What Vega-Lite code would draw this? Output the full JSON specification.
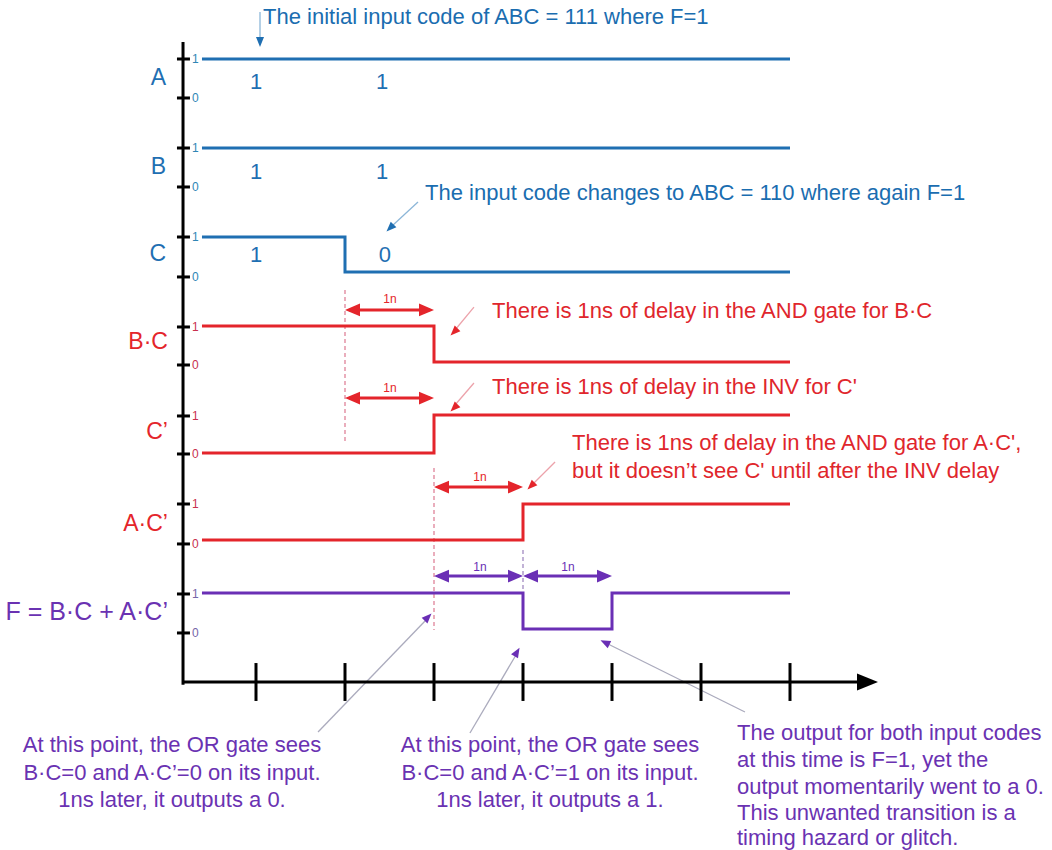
{
  "$schema": "https://vega.github.io/schema/vega-lite/v6.json",
  "width": 1052,
  "height": 850,
  "autosize": {"type": "fit", "contains": "padding"},
  "padding": 0,
  "background": "white",
  "config": {"view": {"stroke": null}, "text": {"font": "Liberation Sans"}},
  "datasets": {
    "axes": [
      {"t": 0.18, "v": 7.19, "t2": 0.18, "v2": -0.03},
      {"t": 0.18, "v": 0, "t2": 7.8, "v2": 0},
      {"t": 1, "v": 0.213, "t2": 1, "v2": -0.213},
      {"t": 2, "v": 0.213, "t2": 2, "v2": -0.213},
      {"t": 3, "v": 0.213, "t2": 3, "v2": -0.213},
      {"t": 4, "v": 0.213, "t2": 4, "v2": -0.213},
      {"t": 5, "v": 0.213, "t2": 5, "v2": -0.213},
      {"t": 6, "v": 0.213, "t2": 6, "v2": -0.213},
      {"t": 7, "v": 0.213, "t2": 7, "v2": -0.213}
    ],
    "arrowhead": [{"t": 7.871, "v": 0}],
    "ticks": [
      {"sig": "A", "grp": "in", "lab": "1", "t": 0.112, "t2": 0.258, "tl": 0.281, "v": 7.0},
      {"sig": "A", "grp": "in", "lab": "0", "t": 0.112, "t2": 0.258, "tl": 0.281, "v": 6.562},
      {"sig": "B", "grp": "in", "lab": "1", "t": 0.112, "t2": 0.258, "tl": 0.281, "v": 6.0},
      {"sig": "B", "grp": "in", "lab": "0", "t": 0.112, "t2": 0.258, "tl": 0.281, "v": 5.562},
      {"sig": "C", "grp": "in", "lab": "1", "t": 0.112, "t2": 0.258, "tl": 0.281, "v": 5.0},
      {"sig": "C", "grp": "in", "lab": "0", "t": 0.112, "t2": 0.258, "tl": 0.281, "v": 4.551},
      {"sig": "BC", "grp": "gate", "lab": "1", "t": 0.112, "t2": 0.258, "tl": 0.281, "v": 3.989},
      {"sig": "BC", "grp": "gate", "lab": "0", "t": 0.112, "t2": 0.258, "tl": 0.281, "v": 3.562},
      {"sig": "Cn", "grp": "gate", "lab": "1", "t": 0.112, "t2": 0.258, "tl": 0.281, "v": 2.989},
      {"sig": "Cn", "grp": "gate", "lab": "0", "t": 0.112, "t2": 0.258, "tl": 0.281, "v": 2.562},
      {"sig": "ACn", "grp": "gate", "lab": "1", "t": 0.112, "t2": 0.258, "tl": 0.281, "v": 2.0},
      {"sig": "ACn", "grp": "gate", "lab": "0", "t": 0.112, "t2": 0.258, "tl": 0.281, "v": 1.551},
      {"sig": "F", "grp": "out", "lab": "1", "t": 0.112, "t2": 0.258, "tl": 0.281, "v": 0.989},
      {"sig": "F", "grp": "out", "lab": "0", "t": 0.112, "t2": 0.258, "tl": 0.281, "v": 0.551}
    ],
    "signals": [
      {"sig": "A", "grp": "in", "ord": 1, "t": 0.393, "v": 7.0},
      {"sig": "A", "grp": "in", "ord": 2, "t": 7.0, "v": 7.0},
      {"sig": "B", "grp": "in", "ord": 1, "t": 0.393, "v": 6.0},
      {"sig": "B", "grp": "in", "ord": 2, "t": 7.0, "v": 6.0},
      {"sig": "C", "grp": "in", "ord": 1, "t": 0.393, "v": 5.0},
      {"sig": "C", "grp": "in", "ord": 2, "t": 2.0, "v": 5.0},
      {"sig": "C", "grp": "in", "ord": 3, "t": 2.0, "v": 4.607},
      {"sig": "C", "grp": "in", "ord": 4, "t": 7.0, "v": 4.607},
      {"sig": "BC", "grp": "gate", "ord": 1, "t": 0.393, "v": 4.0},
      {"sig": "BC", "grp": "gate", "ord": 2, "t": 3.0, "v": 4.0},
      {"sig": "BC", "grp": "gate", "ord": 3, "t": 3.0, "v": 3.596},
      {"sig": "BC", "grp": "gate", "ord": 4, "t": 7.0, "v": 3.596},
      {"sig": "Cn", "grp": "gate", "ord": 1, "t": 0.393, "v": 2.573},
      {"sig": "Cn", "grp": "gate", "ord": 2, "t": 3.0, "v": 2.573},
      {"sig": "Cn", "grp": "gate", "ord": 3, "t": 3.0, "v": 3.0},
      {"sig": "Cn", "grp": "gate", "ord": 4, "t": 7.0, "v": 3.0},
      {"sig": "ACn", "grp": "gate", "ord": 1, "t": 0.393, "v": 1.596},
      {"sig": "ACn", "grp": "gate", "ord": 2, "t": 4.0, "v": 1.596},
      {"sig": "ACn", "grp": "gate", "ord": 3, "t": 4.0, "v": 2.0},
      {"sig": "ACn", "grp": "gate", "ord": 4, "t": 7.0, "v": 2.0},
      {"sig": "F", "grp": "out", "ord": 1, "t": 0.393, "v": 1.0},
      {"sig": "F", "grp": "out", "ord": 2, "t": 4.0, "v": 1.0},
      {"sig": "F", "grp": "out", "ord": 3, "t": 4.0, "v": 0.596},
      {"sig": "F", "grp": "out", "ord": 4, "t": 5.0, "v": 0.596},
      {"sig": "F", "grp": "out", "ord": 5, "t": 5.0, "v": 1.0},
      {"sig": "F", "grp": "out", "ord": 6, "t": 7.0, "v": 1.0}
    ],
    "names": [
      {"name": "A", "grp": "in", "t": -0.011, "v": 6.787},
      {"name": "B", "grp": "in", "t": -0.011, "v": 5.787},
      {"name": "C", "grp": "in", "t": -0.011, "v": 4.809},
      {"name": "B·C", "grp": "gate", "t": 0.011, "v": 3.82},
      {"name": "C’", "grp": "gate", "t": 0.011, "v": 2.809},
      {"name": "A·C’", "grp": "gate", "t": 0.011, "v": 1.775}
    ],
    "fname": [{"name": "F = B·C + A·C’", "grp": "out", "t": 0.011, "v": 0.787}],
    "values": [
      {"lab": "1", "t": 1.0, "v": 6.742},
      {"lab": "1", "t": 2.416, "v": 6.742},
      {"lab": "1", "t": 1.0, "v": 5.73},
      {"lab": "1", "t": 2.416, "v": 5.73},
      {"lab": "1", "t": 1.0, "v": 4.798},
      {"lab": "0", "t": 2.449, "v": 4.798}
    ],
    "dashes": [
      {"grp": "gate", "t": 2.0, "v": 4.404, "v2": 2.697},
      {"grp": "gate", "t": 3.0, "v": 2.404, "v2": 0.584},
      {"grp": "out", "t": 4.0, "v": 1.483, "v2": 1.011}
    ],
    "dims": [
      {"grp": "gate", "t": 2.05, "t2": 2.95, "v": 4.18},
      {"grp": "gate", "t": 2.05, "t2": 2.95, "v": 3.191},
      {"grp": "gate", "t": 3.05, "t2": 3.95, "v": 2.191},
      {"grp": "out", "t": 3.05, "t2": 3.95, "v": 1.191},
      {"grp": "out", "t": 4.05, "t2": 4.95, "v": 1.191}
    ],
    "dimheads": [
      {"grp": "gate", "t": 2.084, "v": 4.18, "ang": 180},
      {"grp": "gate", "t": 2.916, "v": 4.18, "ang": 0},
      {"grp": "gate", "t": 2.084, "v": 3.191, "ang": 180},
      {"grp": "gate", "t": 2.916, "v": 3.191, "ang": 0},
      {"grp": "gate", "t": 3.084, "v": 2.191, "ang": 180},
      {"grp": "gate", "t": 3.916, "v": 2.191, "ang": 0},
      {"grp": "out", "t": 3.084, "v": 1.191, "ang": 180},
      {"grp": "out", "t": 3.916, "v": 1.191, "ang": 0},
      {"grp": "out", "t": 4.084, "v": 1.191, "ang": 180},
      {"grp": "out", "t": 4.916, "v": 1.191, "ang": 0}
    ],
    "dimlabels": [
      {"grp": "gate", "lab": "1n", "t": 2.506, "v": 4.303},
      {"grp": "gate", "lab": "1n", "t": 2.506, "v": 3.303},
      {"grp": "gate", "lab": "1n", "t": 3.517, "v": 2.303},
      {"grp": "out", "lab": "1n", "t": 3.517, "v": 1.292},
      {"grp": "out", "lab": "1n", "t": 4.506, "v": 1.292}
    ],
    "callouts": [
      {"grp": "in", "t": 1.045, "v": 7.528, "t2": 1.045, "v2": 7.236},
      {"grp": "in", "t": 2.82, "v": 5.393, "t2": 2.528, "v2": 5.124},
      {"grp": "gate", "t": 3.449, "v": 4.213, "t2": 3.236, "v2": 3.955},
      {"grp": "gate", "t": 3.449, "v": 3.36, "t2": 3.236, "v2": 3.112},
      {"grp": "gate", "t": 4.36, "v": 2.472, "t2": 4.112, "v2": 2.225},
      {"grp": "out", "t": 1.697, "v": -0.562, "t2": 2.921, "v2": 0.708},
      {"grp": "out", "t": 3.404, "v": -0.573, "t2": 3.921, "v2": 0.303},
      {"grp": "out", "t": 6.494, "v": -0.337, "t2": 4.955, "v2": 0.427}
    ],
    "calloutheads": [
      {"grp": "in", "t": 1.045, "v": 7.19, "ang": 90},
      {"grp": "in", "t": 2.506, "v": 5.101, "ang": 135},
      {"grp": "gate", "t": 3.225, "v": 3.933, "ang": 135},
      {"grp": "gate", "t": 3.225, "v": 3.079, "ang": 135},
      {"grp": "gate", "t": 4.09, "v": 2.202, "ang": 135},
      {"grp": "out", "t": 2.933, "v": 0.73, "ang": 314},
      {"grp": "out", "t": 3.933, "v": 0.337, "ang": 300},
      {"grp": "out", "t": 4.921, "v": 0.444, "ang": 206}
    ],
    "notesLeft": [
      {"grp": "in", "txt": "The initial input code of ABC = 111 where F=1", "t": 1.079, "v": 7.472},
      {"grp": "in", "txt": "The input code changes to ABC = 110 where again F=1", "t": 2.899, "v": 5.494},
      {"grp": "gate", "txt": "There is 1ns of delay in the AND gate for B·C", "t": 3.652, "v": 4.169},
      {"grp": "gate", "txt": "There is 1ns of delay in the INV for C'", "t": 3.652, "v": 3.315},
      {"grp": "gate", "txt": "There is 1ns of delay in the AND gate for A·C',", "t": 4.551, "v": 2.685},
      {"grp": "gate", "txt": "but it doesn’t see C' until after the INV delay", "t": 4.551, "v": 2.371},
      {"grp": "out", "txt": "The output for both input codes", "t": 6.404, "v": -0.573},
      {"grp": "out", "txt": "at this time is F=1, yet the", "t": 6.404, "v": -0.876},
      {"grp": "out", "txt": "output momentarily went to a 0.", "t": 6.404, "v": -1.18},
      {"grp": "out", "txt": "This unwanted transition is a", "t": 6.404, "v": -1.472},
      {"grp": "out", "txt": "timing hazard or glitch.", "t": 6.404, "v": -1.753}
    ],
    "notesCenter": [
      {"grp": "out", "txt": "At this point, the OR gate sees", "t": 0.056, "v": -0.708},
      {"grp": "out", "txt": "B·C=0 and A·C’=0 on its input.", "t": 0.056, "v": -1.022},
      {"grp": "out", "txt": "1ns later, it outputs a 0.", "t": 0.056, "v": -1.326},
      {"grp": "out", "txt": "At this point, the OR gate sees", "t": 4.303, "v": -0.708},
      {"grp": "out", "txt": "B·C=0 and A·C’=1 on its input.", "t": 4.303, "v": -1.022},
      {"grp": "out", "txt": "1ns later, it outputs a 1.", "t": 4.303, "v": -1.326}
    ]
  },
  "encoding": {
    "x": {"field": "t", "type": "quantitative", "scale": {"domain": [-1.8764, 9.9438], "nice": false, "zero": false}, "axis": null},
    "y": {"field": "v", "type": "quantitative", "scale": {"domain": [-1.8876, 7.6629], "nice": false, "zero": false}, "axis": null}
  },
  "layer": [
    {
      "data": {"name": "dashes"},
      "mark": {"type": "rule", "strokeWidth": 1.2, "strokeDash": [4, 3]},
      "encoding": {
        "y2": {"field": "v2"},
        "color": {"field": "grp", "type": "nominal", "scale": {"domain": ["gate", "out"], "range": ["#dc7890", "#9a80bc"]}, "legend": null}
      }
    },
    {
      "data": {"name": "callouts"},
      "mark": {"type": "rule", "strokeWidth": 1.3},
      "encoding": {
        "x2": {"field": "t2"},
        "y2": {"field": "v2"},
        "color": {"field": "grp", "type": "nominal", "scale": {"domain": ["in", "gate", "out"], "range": ["#8cb6d8", "#eca2aa", "#ababbd"]}, "legend": null}
      }
    },
    {
      "data": {"name": "calloutheads"},
      "mark": {"type": "point", "shape": "M-1,-0.8L1,0L-1,0.8Z", "size": 100, "filled": true, "opacity": 1},
      "encoding": {
        "angle": {"field": "ang", "type": "quantitative", "scale": null},
        "color": {"field": "grp", "type": "nominal", "scale": {"domain": ["in", "gate", "out"], "range": ["#1f6fb2", "#e4252b", "#6a2fb5"]}, "legend": null}
      }
    },
    {
      "data": {"name": "axes"},
      "mark": {"type": "rule", "color": "black", "strokeWidth": 3},
      "encoding": {"x2": {"field": "t2"}, "y2": {"field": "v2"}}
    },
    {
      "data": {"name": "ticks"},
      "mark": {"type": "rule", "color": "black", "strokeWidth": 3},
      "encoding": {"x2": {"field": "t2"}}
    },
    {
      "data": {"name": "arrowhead"},
      "mark": {"type": "point", "shape": "M-1,-0.8L1,0L-1,0.8Z", "size": 441, "filled": true, "color": "black", "opacity": 1}
    },
    {
      "data": {"name": "ticks"},
      "mark": {"type": "text", "align": "left", "baseline": "middle", "fontSize": 12},
      "encoding": {
        "x": {"field": "tl", "type": "quantitative"},
        "text": {"field": "lab"},
        "color": {"field": "grp", "type": "nominal", "scale": {"domain": ["in", "gate", "out"], "range": ["#2f86b5", "#c8304e", "#7565a8"]}, "legend": null}
      }
    },
    {
      "data": {"name": "signals"},
      "mark": {"type": "line", "strokeWidth": 3, "strokeJoin": "miter", "strokeCap": "butt"},
      "encoding": {
        "detail": {"field": "sig"},
        "order": {"field": "ord", "type": "quantitative"},
        "color": {"field": "grp", "type": "nominal", "scale": {"domain": ["in", "gate", "out"], "range": ["#1f6fb2", "#e4252b", "#6a2fb5"]}, "legend": null}
      }
    },
    {
      "data": {"name": "dims"},
      "mark": {"type": "rule", "strokeWidth": 3},
      "encoding": {
        "x2": {"field": "t2"},
        "color": {"field": "grp", "type": "nominal", "scale": {"domain": ["gate", "out"], "range": ["#e4252b", "#6a2fb5"]}, "legend": null}
      }
    },
    {
      "data": {"name": "dimheads"},
      "mark": {"type": "point", "shape": "M-1,-0.85L1,0L-1,0.85Z", "size": 225, "filled": true, "opacity": 1},
      "encoding": {
        "angle": {"field": "ang", "type": "quantitative", "scale": null},
        "color": {"field": "grp", "type": "nominal", "scale": {"domain": ["gate", "out"], "range": ["#e4252b", "#6a2fb5"]}, "legend": null}
      }
    },
    {
      "data": {"name": "dimlabels"},
      "mark": {"type": "text", "align": "center", "baseline": "middle", "fontSize": 12},
      "encoding": {
        "text": {"field": "lab"},
        "color": {"field": "grp", "type": "nominal", "scale": {"domain": ["gate", "out"], "range": ["#e4252b", "#6a2fb5"]}, "legend": null}
      }
    },
    {
      "data": {"name": "names"},
      "mark": {"type": "text", "align": "right", "baseline": "middle", "fontSize": 23},
      "encoding": {
        "text": {"field": "name"},
        "color": {"field": "grp", "type": "nominal", "scale": {"domain": ["in", "gate", "out"], "range": ["#1f6fb2", "#e4252b", "#6a2fb5"]}, "legend": null}
      }
    },
    {
      "data": {"name": "fname"},
      "mark": {"type": "text", "align": "right", "baseline": "middle", "fontSize": 25, "color": "#6a32b2"},
      "encoding": {"text": {"field": "name"}}
    },
    {
      "data": {"name": "values"},
      "mark": {"type": "text", "align": "center", "baseline": "middle", "fontSize": 22, "color": "#1f6fb2"},
      "encoding": {"text": {"field": "lab"}}
    },
    {
      "data": {"name": "notesLeft"},
      "mark": {"type": "text", "align": "left", "baseline": "middle", "fontSize": 22},
      "encoding": {
        "text": {"field": "txt"},
        "color": {"field": "grp", "type": "nominal", "scale": {"domain": ["in", "gate", "out"], "range": ["#1a6db0", "#e0262c", "#6a32b2"]}, "legend": null}
      }
    },
    {
      "data": {"name": "notesCenter"},
      "mark": {"type": "text", "align": "center", "baseline": "middle", "fontSize": 22, "color": "#6a32b2"},
      "encoding": {"text": {"field": "txt"}}
    }
  ],
  "resolve": {"scale": {"color": "independent"}}
}
